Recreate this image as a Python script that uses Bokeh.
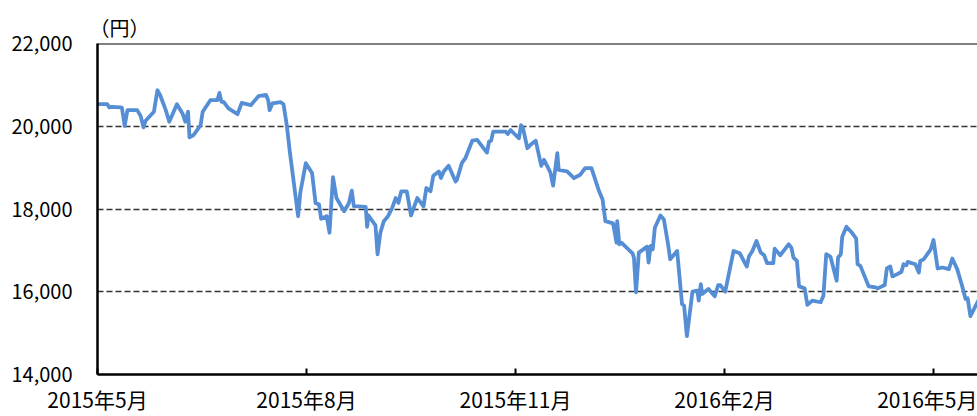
from bokeh.plotting import figure
from bokeh.models import Range1d, FixedTicker, NumeralTickFormatter, Span
from bokeh.embed import file_html
from bokeh.resources import INLINE

# months elapsed since 2015-05 (position on the time axis), and the index close (円)
months = [0.00, 0.14, 0.17, 0.21, 0.33, 0.35, 0.39, 0.43, 0.57, 0.62, 0.66, 0.69, 0.81, 0.86, 0.90,
          0.98, 1.03, 1.14, 1.22, 1.26, 1.30, 1.32, 1.38, 1.48, 1.51, 1.62, 1.72, 1.75, 1.78, 1.81,
          1.88, 2.01, 2.07, 2.20, 2.31, 2.42, 2.45, 2.47, 2.51, 2.63, 2.67, 2.72, 2.76, 2.88, 2.91,
          2.99, 3.08, 3.13, 3.18, 3.21, 3.29, 3.33, 3.38, 3.43, 3.54, 3.61, 3.65, 3.68, 3.85, 3.87,
          3.89, 3.99, 4.02, 4.06, 4.11, 4.17, 4.23, 4.28, 4.32, 4.36, 4.44, 4.50, 4.59, 4.68, 4.72,
          4.78, 4.82, 4.90, 4.93, 4.97, 5.04, 5.14, 5.16, 5.23, 5.28, 5.38, 5.45, 5.59, 5.62, 5.65,
          5.68, 5.86, 5.89, 5.93, 6.00, 6.05, 6.08, 6.11, 6.17, 6.22, 6.29, 6.37, 6.41, 6.50, 6.54,
          6.60, 6.62, 6.74, 6.84, 6.93, 7.00, 7.09, 7.20, 7.25, 7.29, 7.40, 7.45, 7.46, 7.49, 7.52,
          7.68, 7.70, 7.73, 7.77, 7.89, 7.91, 7.94, 7.97, 8.00, 8.08, 8.13, 8.19, 8.22, 8.32, 8.39,
          8.42, 8.46, 8.54, 8.61, 8.63, 8.66, 8.68, 8.77, 8.86, 8.91, 8.94, 9.01, 9.13, 9.22, 9.32,
          9.35, 9.40, 9.46, 9.52, 9.57, 9.61, 9.70, 9.72, 9.80, 9.92, 9.96, 9.99, 10.04, 10.07, 10.15,
          10.19, 10.26, 10.38, 10.42, 10.46, 10.52, 10.61, 10.63, 10.67, 10.69, 10.75, 10.83, 10.89,
          10.91, 10.95, 11.07, 11.17, 11.20, 11.30, 11.33, 11.38, 11.41, 11.48, 11.54, 11.57, 11.61,
          11.63, 11.74, 11.79, 11.81, 11.86, 11.96, 12.00, 12.06, 12.13, 12.22, 12.27, 12.34, 12.41,
          12.46, 12.49, 12.53, 12.63, 12.72]
close = [20533, 20533, 20454, 20470, 20454, 20446, 20005, 20389, 20389, 20245, 19973, 20133, 20349, 20870, 20750,
         20389, 20109, 20533, 20309, 20109, 20349, 19733, 19789, 20029, 20349, 20630, 20630, 20806, 20589, 20589,
         20430, 20293, 20565, 20510, 20726, 20757, 20630, 20389, 20550, 20582, 20533, 19990, 19389, 17826, 18387,
         19108, 18868, 18147, 18107, 17763, 17826, 17426, 18772, 18265, 17946, 18147, 18443, 18067, 18051, 17571,
         17843, 17603, 16906, 17426, 17706, 17826, 18027, 18265, 18147, 18427, 18427, 17843, 18265, 18067, 18507,
         18427, 18804, 18908, 18748, 18908, 19044, 18667, 18708, 19108, 19228, 19652, 19669, 19364, 19629, 19652,
         19869, 19869, 19813, 19909, 19789, 19709, 20029, 19935, 19469, 19560, 19652, 19044, 19188, 18884, 18564,
         19348, 18948, 18908, 18748, 18828, 18988, 18988, 18427, 18228, 17706, 17651, 17186, 17706, 17146, 17186,
         16930, 16826, 15986, 16946, 17090, 16706, 17106, 17026, 17547, 17843, 17747, 17146, 16786, 16986, 15706,
         15665, 14927, 16002, 16026, 15786, 16186, 15946, 16066, 15890, 16162, 16162, 16002, 16986, 16930, 16610,
         16850, 16986, 17226, 16946, 16882, 16690, 16690, 17043, 16882, 17146, 17066, 16826, 16746, 16130, 16082,
         15681, 15786, 15746, 15906, 16906, 16850, 16266, 16826, 16906, 17330, 17571, 17426, 17282,
         16666, 16626, 16130, 16106, 16082, 16162, 16562, 16610, 16370, 16426, 16482, 16666, 16642,
         16722, 16666, 16466, 16746, 16786, 17026, 17250, 16562, 16586, 16546, 16802, 16546, 16146,
         15826, 15842, 15410, 15746, 16000]

tick_months = [0, 3, 6, 9, 12]
tick_labels = ["2015年5月", "2015年8月", "2015年11月", "2016年2月", "2016年5月"]
y_ticks = [14000, 16000, 18000, 20000, 22000]
grid_levels = [16000, 18000, 20000]

FONT = "Noto Sans CJK JP"

W, H = 977, 416
LEFT, TOP, BOTTOM = 97, 43, 40
p = figure(width=W, height=H, output_backend="svg", toolbar_location=None,
           x_range=Range1d(0, (W - LEFT) / 69.667), y_range=Range1d(14000, 22000),
           min_border_left=LEFT, min_border_right=0, min_border_top=TOP, min_border_bottom=BOTTOM)
p.outline_line_color = None
p.background_fill_color = "white"
p.border_fill_color = "white"

p.title.text = "（円）"
p.title.text_font = FONT
p.title.text_font_size = "20px"
p.title.text_font_style = "normal"
p.title.align = "left"
p.title.offset = -8
p.title.standoff = 3
p.title.text_color = "black"

p.xgrid.visible = False
p.ygrid.ticker = FixedTicker(ticks=grid_levels)
p.ygrid.grid_line_color = "#333333"
p.ygrid.grid_line_width = 1.6
p.ygrid.grid_line_dash = "6 3"

p.add_layout(Span(location=22000, dimension="width", line_color="black", line_width=2))

p.line(months, close, line_color="#558ED5", line_width=3.8, line_join="round")

xa = p.xaxis[0]
xa.ticker = FixedTicker(ticks=tick_months)
xa.major_label_overrides = {m: l for m, l in zip(tick_months, tick_labels)}
xa.major_tick_in = 6
xa.major_tick_out = 0
xa.major_tick_line_width = 2
xa.major_tick_line_color = "black"
xa.minor_tick_line_color = None
xa.axis_line_width = 2.5
xa.axis_line_color = "black"
xa.major_label_standoff = 9
xa.major_label_text_font = FONT
xa.major_label_text_font_size = "21px"
xa.major_label_text_color = "black"

ya = p.yaxis[0]
ya.ticker = FixedTicker(ticks=y_ticks)
ya.formatter = NumeralTickFormatter(format="0,0")
ya.major_tick_in = 0
ya.major_tick_out = 0
ya.minor_tick_line_color = None
ya.axis_line_width = 2.5
ya.axis_line_color = "black"
ya.major_label_standoff = 25
ya.major_label_text_font = FONT
ya.major_label_text_font_size = "20px"
ya.major_label_text_color = "black"

open("out.html", "w").write(file_html(p, INLINE))
